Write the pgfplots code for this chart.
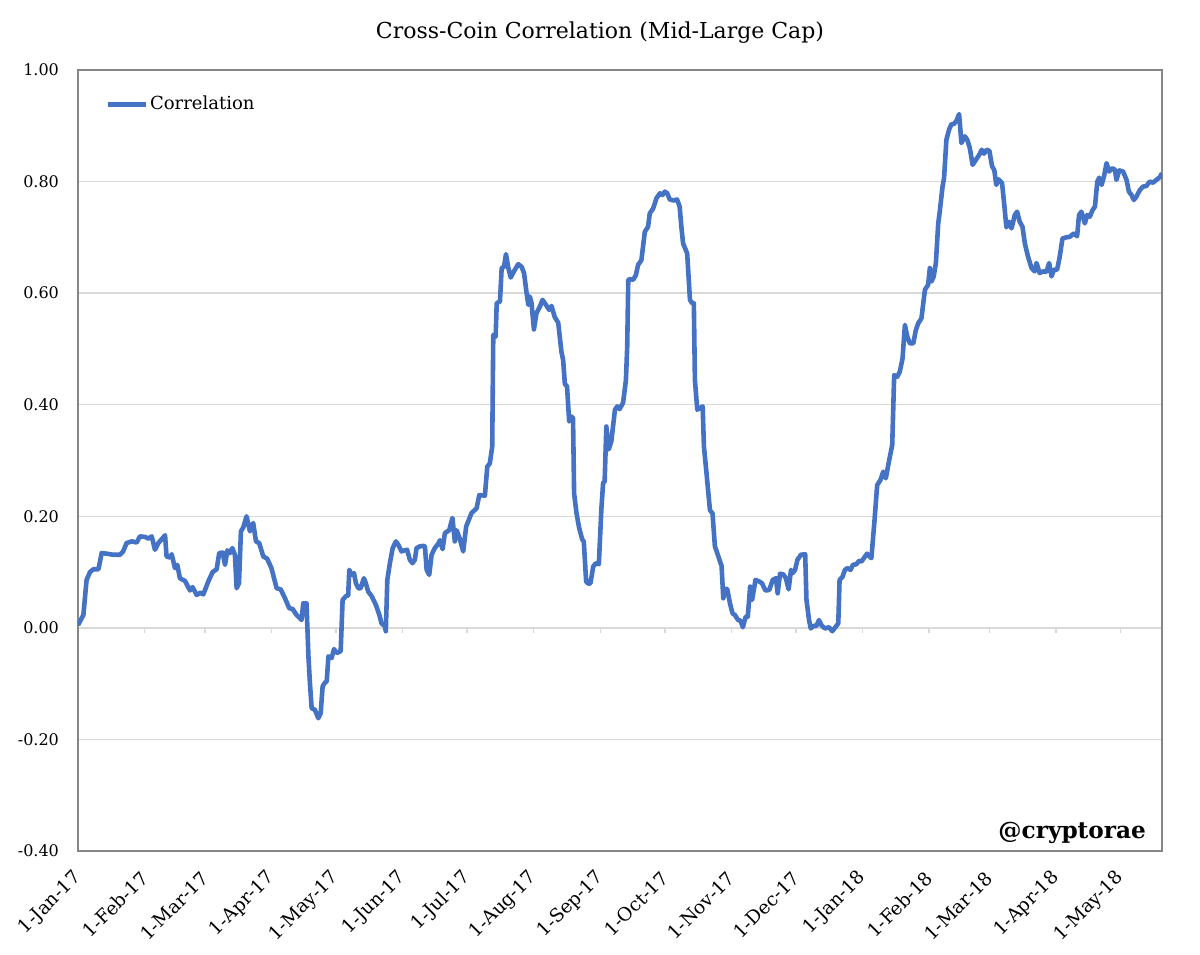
\documentclass[border=0pt]{standalone}
\usepackage{fontspec}
\setmainfont{DejaVu Serif}
\usepackage{pgfplots}
\pgfplotsset{compat=1.18}
\definecolor{excelblue}{HTML}{4472C4}
\definecolor{gridgray}{HTML}{D9D9D9}
\definecolor{framegray}{HTML}{868686}
\begin{document}
\begin{tikzpicture}
\path[use as bounding box] (-39pt,-51.5pt) rectangle (561pt,425.5pt);
\begin{axis}[
  at={(0,0)}, anchor=south west,
  scale only axis, width=542pt, height=390.5pt,
  xmin=0, xmax=504.3, ymin=-0.4, ymax=1.0,
  xtick={0,31,59,90,120,151,181,212,243,273,304,334,365,396,424,455,485},
  xticklabels={1-Jan-17,1-Feb-17,1-Mar-17,1-Apr-17,1-May-17,1-Jun-17,1-Jul-17,1-Aug-17,1-Sep-17,1-Oct-17,1-Nov-17,1-Dec-17,1-Jan-18,1-Feb-18,1-Mar-18,1-Apr-18,1-May-18},
  ytick={-0.4,-0.2,0,0.2,0.4,0.6,0.8,1.0},
  yticklabel style={font=\fontsize{8}{9}\selectfont, xshift=-6pt, /pgf/number format/fixed, /pgf/number format/fixed zerofill, /pgf/number format/precision=2, /pgf/number format/assume math mode=true},
  xticklabel style={font=\fontsize{9.3}{11}\selectfont, yshift=-9.5pt, xshift=2.5pt, rotate=45, anchor=east},
  major tick length=0pt,
  ymajorgrids, grid style={gridgray, line width=0.75pt},
  axis line style={framegray, line width=0.75pt},
  legend style={at={(rel axis cs:0.025,0.956)}, anchor=west, draw=none, fill=none, inner sep=0pt, nodes={inner sep=1pt}, font=\fontsize{9}{10}\selectfont},
  legend cell align=left,
  legend image code/.code={\draw[#1] (0pt,0pt) -- (19pt,0pt);},
]
\pgfplotsinvokeforeach{31,59,90,120,151,181,212,243,273,304,334,365,396,424,455,485}{
  \draw[gridgray, line width=0.75pt] (axis cs:#1,0) -- ++(0pt,-2.5pt);
}
\addplot[excelblue, line width=2.3pt, line join=round, mark=none] table {
x y
0 0.005
2.5 0.023
4 0.086
5.6 0.100
7.1 0.105
9.5 0.105
11 0.134
13.3 0.133
16.4 0.131
19.5 0.131
21 0.137
22.6 0.152
25 0.155
27.3 0.153
28.8 0.164
31.2 0.163
32.7 0.160
34.3 0.164
35.8 0.140
37.4 0.152
40.5 0.166
41.2 0.128
42.8 0.126
43.6 0.132
45.1 0.107
46.2 0.113
47.4 0.089
49.8 0.084
52.1 0.067
53.3 0.073
55.2 0.059
57 0.063
58.3 0.060
60.6 0.083
62.6 0.100
64.5 0.105
65.7 0.134
67.3 0.135
68.4 0.113
69.5 0.139
70.7 0.134
71.8 0.143
73 0.131
73.8 0.071
74.9 0.080
75.8 0.173
76.9 0.180
78.4 0.200
80 0.173
81.5 0.188
82.8 0.155
84.3 0.152
86.2 0.128
88 0.124
90 0.107
92.4 0.071
94.3 0.069
96.3 0.053
98.3 0.035
99.8 0.034
101.7 0.023
104 0.014
104.8 0.044
106.3 0.044
107.2 -0.051
107.9 -0.099
108.7 -0.144
110.2 -0.147
111.8 -0.162
112.9 -0.153
113.8 -0.105
114.9 -0.098
115.7 -0.096
116.5 -0.051
118 -0.054
119.1 -0.038
120.3 -0.045
122.2 -0.042
123.1 0.050
124.7 0.057
125.7 0.058
126.2 0.104
127.3 0.095
128.4 0.098
129.3 0.080
130.4 0.071
131.5 0.071
133 0.089
133.9 0.080
135 0.065
136.6 0.057
138.6 0.041
140.2 0.023
141.2 0.008
142.8 0.003
143.2 -0.006
143.9 0.086
145.1 0.116
146.4 0.143
147.9 0.155
149 0.149
150.5 0.137
152 0.139
153.1 0.140
154.4 0.122
155.6 0.116
156.7 0.122
157.5 0.143
159 0.146
160.6 0.147
161.4 0.146
162.2 0.104
163.4 0.095
164.5 0.131
166 0.143
167.6 0.151
168.4 0.157
169.6 0.141
170.7 0.170
172.7 0.175
174.2 0.197
175.3 0.155
176.1 0.175
177.6 0.160
179.2 0.137
180.6 0.182
183.1 0.206
185.4 0.214
186.7 0.238
189.3 0.237
190.4 0.289
191.6 0.295
192.7 0.325
193.2 0.525
194.3 0.522
194.8 0.582
196.3 0.585
197.1 0.645
198.2 0.647
199.1 0.670
200.2 0.645
201.3 0.628
202.8 0.639
204.8 0.652
206.4 0.647
207.5 0.636
208.7 0.600
209.5 0.579
210.2 0.594
211 0.582
212.1 0.535
213.3 0.564
214.9 0.576
216.1 0.588
217.7 0.579
219.2 0.570
220.3 0.577
221.8 0.557
223.4 0.547
224.9 0.495
225.7 0.480
226.5 0.437
227.5 0.433
228.5 0.370
229.5 0.379
230.3 0.376
230.8 0.241
231.9 0.206
233.1 0.180
234.6 0.158
235.3 0.155
236.4 0.083
237.5 0.079
238.4 0.080
239.7 0.110
240.9 0.116
242.3 0.114
243.5 0.214
244.3 0.260
245 0.262
245.8 0.361
246.9 0.320
248.1 0.334
249.8 0.391
250.9 0.397
252 0.392
253.6 0.404
254.9 0.444
255.5 0.504
256 0.624
257 0.625
258.3 0.624
259.5 0.632
260.6 0.651
262.1 0.659
263.7 0.710
265.2 0.719
266 0.743
267.6 0.752
269.1 0.770
270.7 0.779
271.9 0.776
273 0.782
274.1 0.779
275.3 0.768
277.2 0.766
278.7 0.768
279.9 0.755
280.7 0.719
281.5 0.689
282.8 0.677
283.4 0.671
284.7 0.588
285.7 0.582
286.5 0.582
287 0.444
288.1 0.391
289.3 0.394
290.6 0.397
291.2 0.325
292.4 0.277
294 0.211
295.2 0.205
296.3 0.146
297.4 0.134
298.6 0.120
299.4 0.111
300.2 0.053
301 0.070
302 0.070
303.3 0.044
304.5 0.026
305.6 0.023
307.1 0.014
308.2 0.013
309.3 0.001
310.6 0.020
311.6 0.020
312.7 0.074
313.6 0.050
315.2 0.086
317 0.083
318.2 0.080
319.8 0.067
321.6 0.068
323.2 0.086
324.7 0.089
325.5 0.062
326.6 0.097
328.1 0.096
329.3 0.089
330.6 0.069
331.7 0.104
332.4 0.098
333.6 0.104
334.7 0.122
336.3 0.131
338.3 0.132
338.9 0.050
340.1 0.014
340.9 -0.001
342.4 0.004
343.5 0.003
344.7 0.014
346 0.004
347.5 -0.001
349.4 0.001
350.9 -0.006
352.5 0.002
353.7 0.008
354.3 0.086
355.6 0.091
356.8 0.104
357.9 0.107
359.4 0.104
360.5 0.113
362.1 0.114
363.3 0.120
364.5 0.119
365.6 0.125
367.1 0.133
368.2 0.128
369.1 0.125
370.5 0.190
371.8 0.256
373.3 0.265
374.6 0.280
375.8 0.268
377.4 0.301
378.8 0.328
379.7 0.453
381.1 0.450
382.3 0.459
383.6 0.483
384.7 0.543
385.8 0.522
387 0.510
388.6 0.510
389.8 0.534
390.9 0.546
392.4 0.555
394 0.606
395.5 0.615
396.3 0.645
397.1 0.621
398.1 0.630
399.1 0.654
400.2 0.725
400.9 0.746
402.2 0.791
402.9 0.806
404 0.875
405.3 0.894
406.4 0.903
407.4 0.903
408.7 0.909
409.9 0.921
411 0.869
412.6 0.881
413.7 0.875
414.9 0.860
416.2 0.830
417.7 0.839
419.3 0.848
420.4 0.857
421.5 0.850
422.7 0.857
424 0.855
425.2 0.828
426.3 0.820
427.2 0.794
428.3 0.804
429.9 0.797
431 0.755
431.9 0.718
433.2 0.728
434.3 0.716
435.8 0.740
436.9 0.746
438.1 0.728
439.4 0.719
440.5 0.689
442 0.665
443.6 0.645
445.1 0.639
445.9 0.654
447.4 0.636
449 0.639
450.5 0.638
451.8 0.654
452.9 0.630
454 0.642
455.5 0.642
456.7 0.665
458 0.698
459.8 0.700
461.4 0.701
463.3 0.707
464.8 0.702
465.7 0.740
466.8 0.746
468.4 0.725
469.5 0.740
470.7 0.737
472 0.749
473.1 0.755
474.2 0.800
475.1 0.807
476.2 0.794
477.3 0.809
478.5 0.833
479.7 0.818
481.3 0.824
482.4 0.821
483.1 0.803
484.4 0.820
486.2 0.818
487.8 0.803
488.9 0.782
490.1 0.776
491.2 0.767
492.4 0.773
494 0.785
495.5 0.791
497 0.792
498.6 0.800
500.1 0.798
501.7 0.803
503.3 0.808
504.3 0.815
};
\addlegendentry{Correlation}
\node[anchor=east, font=\bfseries\fontsize{11.6}{13}\selectfont, xshift=-4.5pt, yshift=9pt] at (rel axis cs:1,0) {@cryptorae};
\end{axis}
\node[font=\fontsize{11}{13}\selectfont] at (261pt,409pt) {Cross-Coin Correlation (Mid-Large Cap)};
\end{tikzpicture}
\end{document}
